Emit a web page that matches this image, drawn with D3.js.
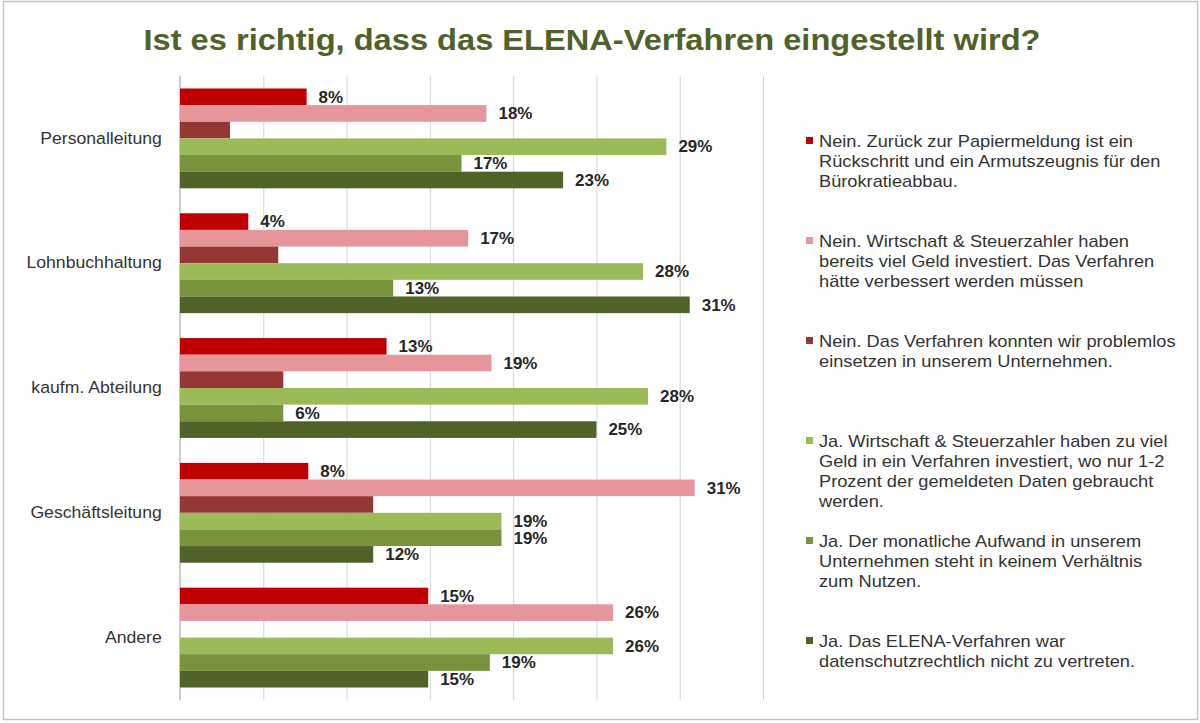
<!DOCTYPE html>
<html>
<head>
<meta charset="utf-8">
<script src="https://cdn.jsdelivr.net/npm/d3@7/dist/d3.min.js"></script>
<style>
  html, body { margin: 0; padding: 0; background: #fff; }
  svg { display: block; }
  text { font-family: "Liberation Sans", Arial, sans-serif; }
</style>
</head>
<body>
<svg id="chart" width="1200" height="723"></svg>
<script>
// ---- data ----
const title = "Ist es richtig, dass das ELENA-Verfahren eingestellt wird?";
const categories = ["Personalleitung", "Lohnbuchhaltung", "kaufm. Abteilung", "Geschäftsleitung", "Andere"];
const seriesNames = [
  ["Nein. Zurück zur Papiermeldung ist ein", "Rückschritt und ein Armutszeugnis für den", "Bürokratieabbau."],
  ["Nein. Wirtschaft & Steuerzahler haben", "bereits viel Geld investiert. Das Verfahren", "hätte verbessert werden müssen"],
  ["Nein. Das Verfahren konnten wir problemlos", "einsetzen in unserem Unternehmen."],
  ["Ja. Wirtschaft & Steuerzahler haben zu viel", "Geld in ein Verfahren investiert, wo nur 1-2", "Prozent der gemeldeten Daten gebraucht", "werden."],
  ["Ja. Der monatliche Aufwand in unserem", "Unternehmen steht in keinem Verhältnis", "zum Nutzen."],
  ["Ja. Das ELENA-Verfahren war", "datenschutzrechtlich nicht zu vertreten."]
];
const seriesColors = ["#C00000", "#E6959B", "#953735", "#9BBB59", "#77933C", "#4F6228"];
// bar lengths (share) per series, in category order
const nein1 = [0.076, 0.041, 0.124, 0.077, 0.149];
const nein2 = [0.184, 0.173, 0.187, 0.309, 0.260];
const nein3 = [0.030, 0.059, 0.062, 0.116, 0];
const ja1   = [0.292, 0.278, 0.281, 0.193, 0.260];
const ja2   = [0.169, 0.128, 0.062, 0.193, 0.186];
const ja3   = [0.230, 0.306, 0.250, 0.116, 0.149];
// printed data labels (null = no label)
const lab1 = ["8%", "4%", "13%", "8%", "15%"];
const lab2 = ["18%", "17%", "19%", "31%", "26%"];
const lab3 = [null, null, null, null, null];
const lab4 = ["29%", "28%", "28%", "19%", "26%"];
const lab5 = ["17%", "13%", "6%", "19%", "19%"];
const lab6 = ["23%", "31%", "25%", "12%", "15%"];
const xTicks = [0, 0.05, 0.10, 0.15, 0.20, 0.25, 0.30, 0.35];

const values = [nein1, nein2, nein3, ja1, ja2, ja3];
const labels = [lab1, lab2, lab3, lab4, lab5, lab6];

// ---- layout ----
const svg = d3.select("#chart");
const plot = { left: 180, right: 763, top: 76, bottom: 700 };

// frame
svg.append("rect").attr("x", 3.5).attr("y", 1.5).attr("width", 1194).attr("height", 718)
  .attr("fill", "#fff").attr("stroke", "#c4c4c4").attr("stroke-width", 1.5);

// title
svg.append("text").attr("x", 592).attr("y", 50).attr("text-anchor", "middle")
  .attr("font-size", 29).attr("font-weight", "bold").attr("fill", "#4F6228")
  .attr("textLength", 897).attr("lengthAdjust", "spacingAndGlyphs")
  .text(title);

const x = d3.scaleLinear().domain([0, 0.35]).range([plot.left, plot.right]);
const y = d3.scaleBand().domain(categories).range([plot.top, plot.bottom])
  .paddingInner(0.2).paddingOuter(0.1);
const ys = d3.scaleBand().domain(d3.range(values.length)).range([0, y.bandwidth()]);

// gridlines
const grid = svg.append("g").attr("transform", `translate(0,${plot.bottom})`)
  .call(d3.axisBottom(x).tickValues(xTicks.slice(1)).tickSize(-(plot.bottom - plot.top)).tickFormat(""));
grid.select(".domain").remove();
grid.selectAll(".tick line").attr("stroke", "#cfd4de").attr("stroke-width", 1);

// category axis
const yAxis = svg.append("g").attr("transform", `translate(${plot.left},0)`)
  .call(d3.axisLeft(y).tickSize(0).tickPadding(17));
yAxis.select(".domain").attr("stroke", "#9a9a9a").attr("d", `M0,${plot.top}V${plot.bottom}`);
yAxis.selectAll(".tick text").attr("font-size", 16.5).attr("fill", "#333")
  .attr("transform", "scale(1.07,1)")
  .style("font-family", '"Liberation Sans", Arial, sans-serif');

// bars
const groups = svg.append("g").selectAll("g.cat").data(categories).join("g")
  .attr("class", "cat").attr("transform", d => `translate(0,${y(d)})`);

groups.each(function(cat, ci) {
  const g = d3.select(this);
  values.forEach((vals, si) => {
    const v = vals[ci];
    if (v > 0) {
      g.append("rect").attr("x", x(0)).attr("y", ys(si))
        .attr("width", x(v) - x(0)).attr("height", ys.bandwidth())
        .attr("fill", seriesColors[si]);
    }
  });
  values.forEach((vals, si) => {
    const l = labels[si][ci];
    if (l) {
      g.append("text").attr("transform", `translate(${x(vals[ci]) + 12},${ys(si) + ys.bandwidth() / 2}) scale(1.06,1)`)
        .attr("dy", "0.36em").attr("font-size", 16).attr("font-weight", "bold")
        .attr("fill", "#262626").text(l);
    }
  });
});

// legend
const legend = svg.append("g").attr("transform", "translate(806,0)");
seriesNames.forEach((lines, i) => {
  const y0 = 141 + i * 100;
  legend.append("rect").attr("x", 0).attr("y", y0 - 4).attr("width", 7).attr("height", 7)
    .attr("fill", seriesColors[i]);
  const tg = legend.append("g").attr("transform", `translate(13,${y0}) scale(1.14,1)`);
  lines.forEach((ln, j) => {
    tg.append("text").attr("x", 0).attr("y", j * 20).attr("dy", "0.35em")
      .attr("font-size", 16).attr("fill", "#333").text(ln);
  });
});
</script>
</body>
</html>
